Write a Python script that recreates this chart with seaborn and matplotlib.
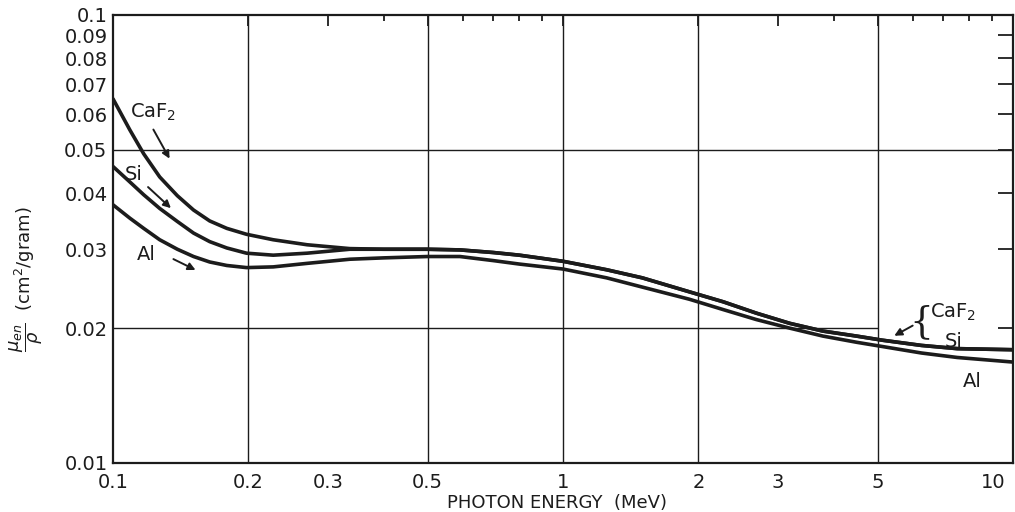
"""
Energy absorption coefficient mu_en/rho vs photon energy for CaF2, Si and Al.
Log-log chart redrawn with seaborn / matplotlib.
"""

import pandas as pd
import matplotlib
matplotlib.use("Agg")
import matplotlib.pyplot as plt
import matplotlib.transforms as mtransforms
from matplotlib.ticker import FixedLocator, FixedFormatter, NullFormatter, NullLocator
import seaborn as sns


# ==============================================================================
# DATA
# ==============================================================================
energy_mev = [0.1, 0.109, 0.117, 0.127, 0.139, 0.151, 0.164, 0.179, 0.198,
              0.227, 0.27, 0.336, 0.4, 0.5, 0.59, 0.7, 0.8, 1.0, 1.25, 1.5,
              1.91, 2.27, 2.69, 3.19, 3.78, 4.49, 5.12, 6.26, 7.52, 10.0]

caf2_mu = [0.0650, 0.0554, 0.0490, 0.0435, 0.0395, 0.0367, 0.0347, 0.0334, 0.0324,
           0.0315, 0.0307, 0.0301, 0.0300, 0.0300, 0.0299, 0.0295, 0.0291, 0.0282,
           0.0270, 0.0259, 0.0241, 0.0229, 0.0216, 0.0205, 0.0197, 0.0192, 0.0188,
           0.0183, 0.0180, 0.0179]

si_mu = [0.0459, 0.0424, 0.0397, 0.0370, 0.0346, 0.0326, 0.0312, 0.0302, 0.0294,
         0.0291, 0.0294, 0.0300, 0.0300, 0.0300, 0.0299, 0.0295, 0.0291, 0.0282,
         0.0270, 0.0259, 0.0241, 0.0229, 0.0216, 0.0205, 0.0197, 0.0192, 0.0188,
         0.0183, 0.0180, 0.0179]

al_mu = [0.0377, 0.0352, 0.0334, 0.0315, 0.0300, 0.0289, 0.0281, 0.0276, 0.0273,
         0.0274, 0.0279, 0.0285, 0.0287, 0.0289, 0.0289, 0.0283, 0.0278, 0.0271,
         0.0259, 0.0247, 0.0232, 0.0220, 0.0209, 0.0200, 0.0192, 0.0186, 0.0182,
         0.0176, 0.0172, 0.0168]

materials = ["CaF2", "Si", "Al"]

x_major_ticks = [0.1, 0.2, 0.3, 0.5, 1, 2, 3, 5, 10]
x_major_labels = ["0.1", "0.2", "0.3", "0.5", "1", "2", "3", "5", "10"]
x_minor_ticks = [0.4, 0.6, 0.7, 0.8, 0.9, 4, 6, 7, 8, 9]
y_ticks = [0.01, 0.02, 0.03, 0.04, 0.05, 0.06, 0.07, 0.08, 0.09, 0.1]
y_labels = ["0.01", "0.02", "0.03", "0.04", "0.05", "0.06", "0.07", "0.08", "0.09", "0.1"]

x_grid = [0.2, 0.5, 1, 2, 5]
y_grid_full = [0.05]
y_grid_short = [0.02]   # stops at the 5 MeV line
y_grid_short_end = 5

INK = "#1c1c1c"


def build_frame():
    """Long-format table for seaborn."""
    frames = []
    for name, vals in zip(materials, [caf2_mu, si_mu, al_mu]):
        frames.append(pd.DataFrame({"energy": energy_mev, "mu": vals, "material": name}))
    return pd.concat(frames, ignore_index=True)


def main():
    sns.set_style("white")
    plt.rcParams["font.family"] = ["DejaVu Sans"]
    plt.rcParams["mathtext.fontset"] = "dejavusans"

    fig = plt.figure(figsize=(10.15, 5.12), dpi=100)
    ax = fig.add_axes([113 / 1015, 49 / 512, 900 / 1015, 448 / 512])

    df = build_frame()
    sns.lineplot(data=df, x="energy", y="mu", hue="material", hue_order=materials,
                 palette=[INK, INK, INK], linewidth=2.6, legend=False, ax=ax,
                 sort=True, estimator=None)
    for line in ax.lines:
        line.set_solid_joinstyle("round")
        line.set_solid_capstyle("round")

    ax.set_xscale("log")
    ax.set_yscale("log")
    ax.set_xlim(0.1, 10)
    ax.set_ylim(0.01, 0.1)

    # grid lines drawn by hand like the original graph paper
    for xv in x_grid:
        ax.axvline(xv, color=INK, lw=1.0, zorder=0)
    for yv in y_grid_full:
        ax.axhline(yv, color=INK, lw=1.0, zorder=0)
    for yv in y_grid_short:
        ax.hlines(yv, 0.1, y_grid_short_end, color=INK, lw=1.0, zorder=0)

    # ticks
    ax.xaxis.set_major_locator(FixedLocator(x_major_ticks))
    ax.xaxis.set_major_formatter(FixedFormatter(x_major_labels))
    ax.xaxis.set_minor_locator(FixedLocator(x_minor_ticks))
    ax.xaxis.set_minor_formatter(NullFormatter())
    ax.yaxis.set_major_locator(FixedLocator(y_ticks))
    ax.yaxis.set_major_formatter(FixedFormatter(y_labels))
    ax.yaxis.set_minor_locator(NullLocator())

    ax.tick_params(which="both", direction="in", top=True, right=True,
                   color=INK, labelcolor=INK, labelsize=14)
    ax.tick_params(axis="x", which="major", length=8, width=1.3, pad=7)
    ax.tick_params(axis="x", which="minor", length=4.5, width=1.3)
    ax.tick_params(axis="y", which="major", length=11, width=1.3, pad=4)

    # "10" label sits a little left of the right edge
    last = ax.get_xticklabels()[-1]
    last.set_transform(last.get_transform() +
                       mtransforms.ScaledTranslation(-0.2, 0, fig.dpi_scale_trans))

    for sp in ax.spines.values():
        sp.set_color(INK)
        sp.set_linewidth(1.6)

    ax.set_xlabel("PHOTON ENERGY  (MeV)", fontsize=13, color=INK)
    ax.xaxis.set_label_coords(0.493, -0.07)
    ax.set_ylabel(r"$\dfrac{\mu_{en}}{\rho}$  (cm$^2$/gram)", fontsize=13, color=INK)
    ax.yaxis.set_label_coords(-0.075, 0.41)

    # curve labels with arrows
    txt = dict(fontsize=14, color=INK, ha="left", va="top")
    arrow = dict(arrowstyle="-|>", color=INK, lw=1.4, mutation_scale=11)

    ax.text(0.109, 0.0639, "CaF$_2$", **txt)
    ax.annotate("", xy=(0.1345, 0.0472), xytext=(0.1221, 0.0562), arrowprops=arrow)
    ax.text(0.1063, 0.0462, "Si", **txt)
    ax.annotate("", xy=(0.1359, 0.0367), xytext=(0.1184, 0.0417), arrowprops=arrow)
    ax.text(0.1130, 0.0307, "Al", **txt)
    ax.annotate("", xy=(0.1545, 0.0268), xytext=(0.1345, 0.0287), arrowprops=arrow)

    ax.text(6.25, 0.0206, "{", fontsize=27, color=INK, ha="center", va="center",
            family=["DejaVu Serif"], fontweight="light")
    ax.text(6.54, 0.0229, "CaF$_2$", **txt)
    ax.text(7.06, 0.0196, "Si", **txt)
    ax.annotate("", xy=(5.38, 0.0191), xytext=(6.06, 0.0204), arrowprops=arrow)
    ax.text(7.74, 0.01596, "Al", **txt)

    fig.savefig("out.png", dpi=100, facecolor="white")


if __name__ == "__main__":
    main()
